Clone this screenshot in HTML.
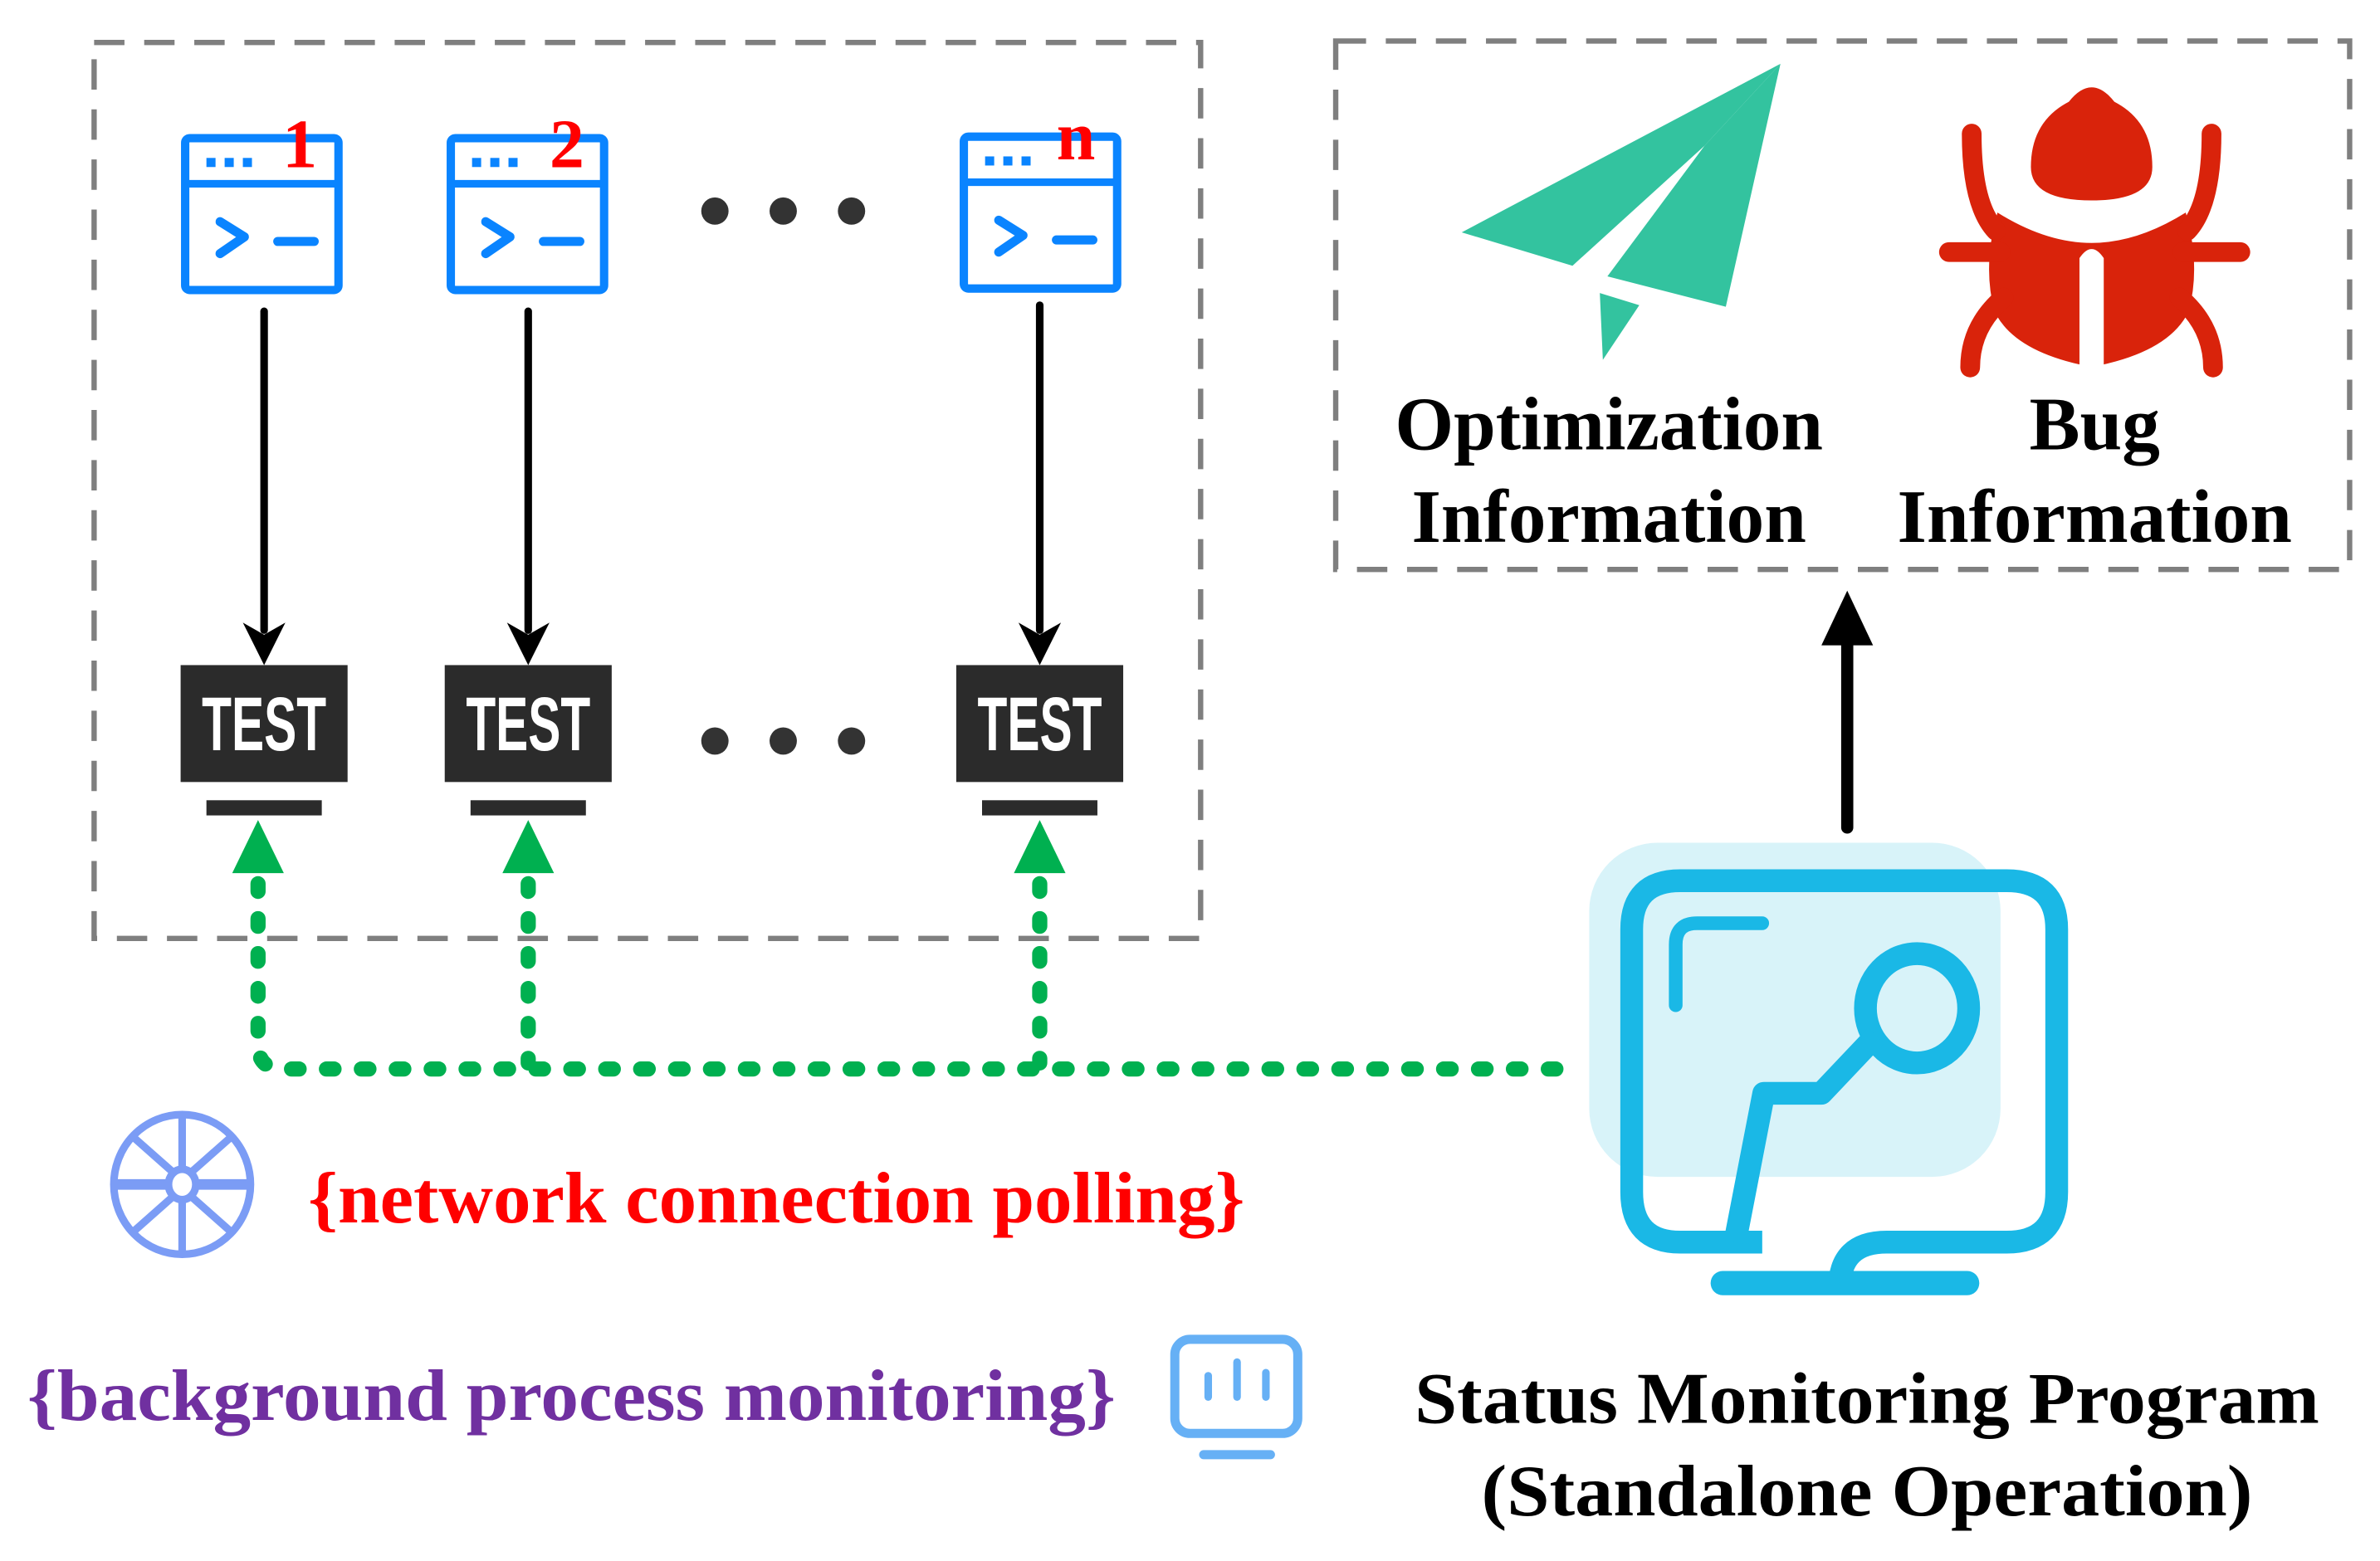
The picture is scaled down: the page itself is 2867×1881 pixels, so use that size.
<!DOCTYPE html>
<html><head><meta charset="utf-8"><style>
html,body{margin:0;padding:0;background:#fff;}
svg{display:block;}
text{font-family:"Liberation Serif",serif;font-weight:bold;}
</style></head><body>
<svg width="2867" height="1881" viewBox="0 0 1568 1028" preserveAspectRatio="none" xmlns="http://www.w3.org/2000/svg">
<defs>
<g id="term">
<rect x="0" y="0" width="101" height="100" rx="3" fill="none" stroke="#0a84ff" stroke-width="5.5"/>
<line x1="0" y1="30" x2="101" y2="30" stroke="#0a84ff" stroke-width="5"/>
<rect x="14" y="13" width="6" height="6" fill="#0a84ff"/>
<rect x="26" y="13" width="6" height="6" fill="#0a84ff"/>
<rect x="38" y="13" width="6" height="6" fill="#0a84ff"/>
<polyline points="23,55 39,65 23,76" fill="none" stroke="#0a84ff" stroke-width="6" stroke-linecap="round" stroke-linejoin="round"/>
<line x1="61" y1="68" x2="85" y2="68" stroke="#0a84ff" stroke-width="6" stroke-linecap="round"/>
</g>
<g id="test">
<rect x="0" y="0" width="110" height="77" fill="#2b2b2b"/>
<text x="14" y="56" fill="#fff" font-size="50" textLength="82" lengthAdjust="spacingAndGlyphs" style="font-family:'Liberation Sans',sans-serif">TEST</text>
<rect x="17" y="89" width="76" height="10" fill="#2b2b2b"/>
</g>
</defs>

<rect x="62" y="28" width="729" height="590" fill="none" stroke="#7f7f7f" stroke-width="3.5" stroke-dasharray="20,13"/>
<rect x="880" y="27" width="668" height="348" fill="none" stroke="#7f7f7f" stroke-width="3.5" stroke-dasharray="20,13"/>

<use href="#term" x="122" y="91"/>
<use href="#term" x="297" y="91"/>
<use href="#term" x="635" y="90"/>
<text x="186" y="110" fill="#ff0000" font-size="46">1</text>
<text x="362" y="110" fill="#ff0000" font-size="46">2</text>
<text x="696" y="105" fill="#ff0000" font-size="46">n</text>

<g fill="#333">
<circle cx="471" cy="139" r="9"/><circle cx="516" cy="139" r="9"/><circle cx="561" cy="139" r="9"/>
<circle cx="471" cy="488" r="9"/><circle cx="516" cy="488" r="9"/><circle cx="561" cy="488" r="9"/>
</g>

<g stroke="#000" stroke-width="5" stroke-linecap="round">
<line x1="174" y1="205" x2="174" y2="415"/>
<line x1="348" y1="205" x2="348" y2="415"/>
<line x1="685" y1="201" x2="685" y2="415"/>
</g>
<g fill="#000">
<polygon points="160,410 174,418 188,410 174,438"/>
<polygon points="334,410 348,418 362,410 348,438"/>
<polygon points="671,410 685,418 699,410 685,438"/>
</g>

<use href="#test" x="119" y="438"/>
<use href="#test" x="293" y="438"/>
<use href="#test" x="630" y="438"/>

<g fill="none" stroke="#00b050" stroke-width="10" stroke-linecap="round" stroke-dasharray="5,18">
<path d="M170,582 V688 Q170,704 186,704 H1026"/>
<path d="M348,582 V700"/>
<path d="M685,582 V700"/>
</g>
<g fill="#00b050">
<polygon points="153,575 170,540 187,575"/>
<polygon points="331,575 348,540 365,575"/>
<polygon points="668,575 685,540 702,575"/>
</g>

<line x1="1217" y1="545" x2="1217" y2="420" stroke="#000" stroke-width="8" stroke-linecap="round"/>
<polygon points="1200,425 1217,389 1234,425" fill="#000"/>

<rect x="1047" y="555" width="271" height="220" rx="45" fill="#d8f3f9"/>
<path d="M1161,818 H1107 Q1075,818 1075,785 V612 Q1075,580 1107,580 H1322 Q1355,580 1355,612 V785 Q1355,818 1322,818 H1243 Q1212,818 1212,848" fill="none" stroke="#1ab8e6" stroke-width="15" stroke-linejoin="round"/>
<line x1="1135" y1="845" x2="1296" y2="845" stroke="#1ab8e6" stroke-width="16" stroke-linecap="round"/>
<path d="M1104,662 V622 Q1104,608 1118,608 H1161" fill="none" stroke="#1ab8e6" stroke-width="9" stroke-linecap="round"/>
<ellipse cx="1263" cy="664" rx="34" ry="36" fill="none" stroke="#1ab8e6" stroke-width="15"/>
<polyline points="1143,818 1162,720 1200,720 1236,682" fill="none" stroke="#1ab8e6" stroke-width="15" stroke-linejoin="round"/>

<g fill="#33c39f">
<polygon points="963,153 1173,42 1123,96 1036,175"/>
<polygon points="1173,42 1137,202 1059,182 1123,96"/>
<polygon points="1054,193 1080,201 1056,237"/>
</g>

<g fill="#d9230b" stroke="#d9230b" stroke-linecap="round">
<path d="M1363,67 Q1378,48 1393,67 Q1418,80 1418,110 Q1418,132 1378,132 Q1338,132 1338,110 Q1338,80 1363,67 Z" stroke="none"/>
<path d="M1316,140 Q1348,160 1378,160 Q1408,160 1440,140 Q1450,175 1442,205 Q1430,230 1386,240 L1386,170 Q1378,158 1370,170 L1370,240 Q1326,230 1314,205 Q1306,175 1316,140 Z" stroke="none"/>
<path d="M1299,88 Q1299,135 1315,152" fill="none" stroke-width="13"/>
<path d="M1457,88 Q1457,135 1441,152" fill="none" stroke-width="13"/>
<line x1="1284" y1="166" x2="1318" y2="166" stroke-width="13"/>
<line x1="1438" y1="166" x2="1476" y2="166" stroke-width="13"/>
<path d="M1320,196 Q1298,215 1298,242" fill="none" stroke-width="13"/>
<path d="M1436,196 Q1458,215 1458,242" fill="none" stroke-width="13"/>
</g>

<g font-size="50" fill="#000" text-anchor="middle">
<text x="1060" y="296" textLength="282" lengthAdjust="spacingAndGlyphs">Optimization</text>
<text x="1060" y="357" textLength="260" lengthAdjust="spacingAndGlyphs">Information</text>
<text x="1380" y="296" textLength="86" lengthAdjust="spacingAndGlyphs">Bug</text>
<text x="1380" y="357" textLength="260" lengthAdjust="spacingAndGlyphs">Information</text>
</g>

<g fill="none" stroke="#7b9cf5" stroke-width="5">
<ellipse cx="120" cy="780" rx="45" ry="46"/>
<ellipse cx="120" cy="780" rx="9" ry="10"/>
<line x1="120" y1="736" x2="120" y2="770"/>
<line x1="120" y1="790" x2="120" y2="825"/>
<line x1="76" y1="780" x2="111" y2="780" stroke-width="7"/>
<line x1="129" y1="780" x2="164" y2="780" stroke-width="7"/>
<line x1="88" y1="749" x2="114" y2="772"/>
<line x1="152" y1="749" x2="126" y2="772"/>
<line x1="88" y1="811" x2="114" y2="788"/>
<line x1="152" y1="811" x2="126" y2="788"/>
</g>
<text x="203" y="805" fill="#ff0000" font-size="48" textLength="617" lengthAdjust="spacingAndGlyphs">{network connection polling}</text>

<rect x="774" y="882" width="81" height="62" rx="10" fill="none" stroke="#66b0f5" stroke-width="6"/>
<line x1="793" y1="958" x2="837" y2="958" stroke="#66b0f5" stroke-width="6" stroke-linecap="round"/>
<g stroke="#66b0f5" stroke-width="5" stroke-linecap="round">
<line x1="796" y1="906" x2="796" y2="920"/>
<line x1="815" y1="897" x2="815" y2="920"/>
<line x1="834" y1="904" x2="834" y2="920"/>
</g>
<text x="18" y="935" fill="#7030a0" font-size="48" textLength="717" lengthAdjust="spacingAndGlyphs">{background process monitoring}</text>

<g font-size="48" fill="#000" text-anchor="middle">
<text x="1230" y="937" textLength="596" lengthAdjust="spacingAndGlyphs">Status Monitoring Program</text>
<text x="1230" y="998" textLength="508" lengthAdjust="spacingAndGlyphs">(Standalone Operation)</text>
</g>
</svg>
</body></html>
